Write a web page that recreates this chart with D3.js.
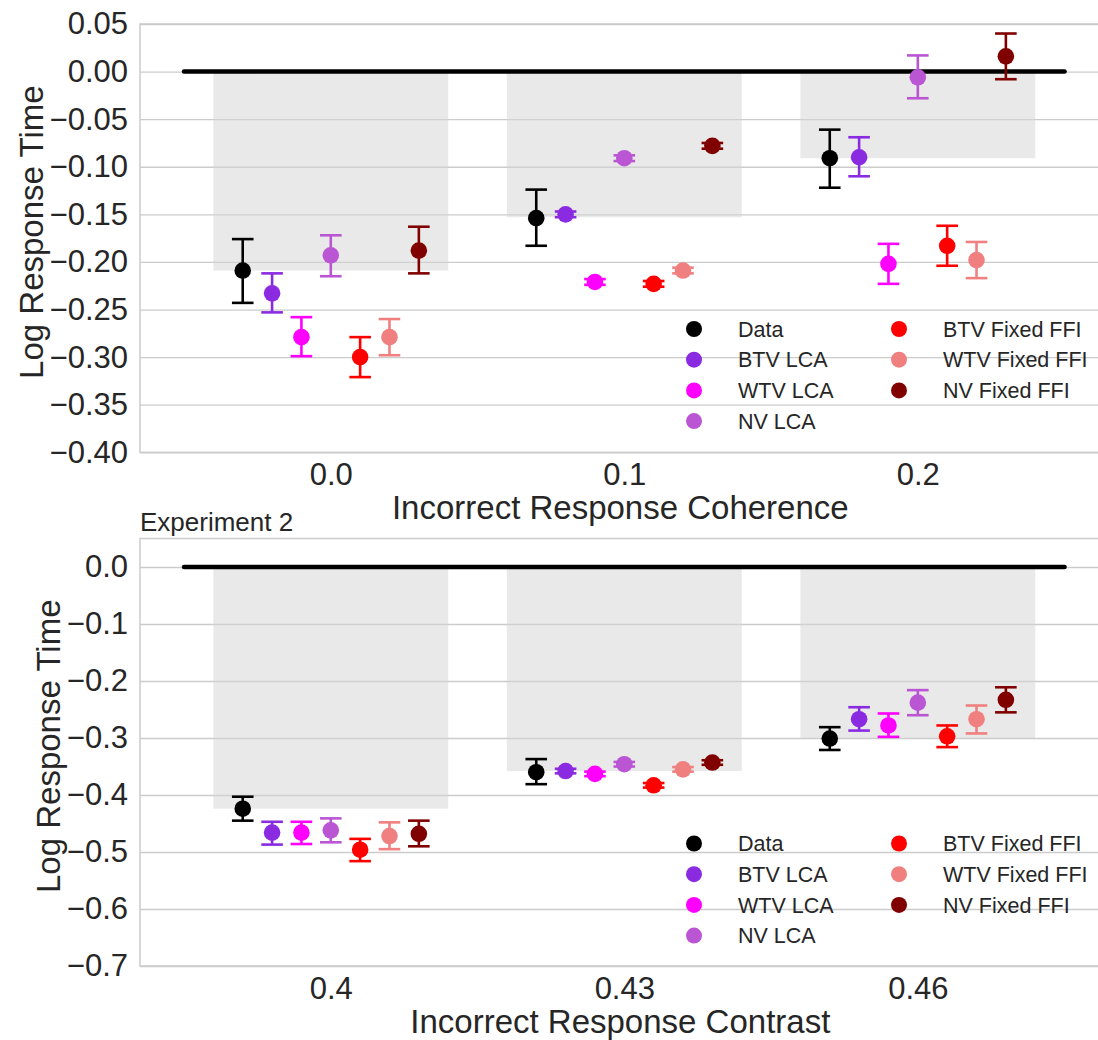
<!DOCTYPE html>
<html>
    <head>
        <meta charset="utf-8">
        <title>Log Response Time</title>
        <style>
            html, body {
                margin: 0px;
                padding: 0px;
                background-color: #ffffff;
            }

            svg {
                display: block;
                font-family: Arial, "Liberation Sans", sans-serif;
            }

            .axis .domain {
                stroke: none;
            }

            .axis text {
                fill: #262626;
            }

            .grid line {
                stroke: #cccccc;
                stroke-width: 1.3;
            }

            .grid text, .grid .domain {
                display: none;
            }
        </style>
        <script src="https://cdn.jsdelivr.net/npm/d3@7"></script>
    </head>
    <body>
        <div id="main"></div>

        <script>
            // series shared by both panels
            var seriesNames = ["Data", "BTV LCA", "WTV LCA", "NV LCA", "BTV Fixed FFI", "WTV Fixed FFI", "NV Fixed FFI"];
            var seriesColors = ["#000000", "#8a2be2", "#ff00ff", "#ba55d3", "#ff0000", "#f08080", "#800000"];

            // experiment 1 (coherence)
            var exp1Categories = ["0.0", "0.1", "0.2"];
            var exp1Bars = [-0.209, -0.153, -0.091];
            var exp1Means = [
                [-0.209, -0.154, -0.091],
                [-0.233, -0.150, -0.090],
                [-0.279, -0.221, -0.202],
                [-0.193, -0.091, -0.006],
                [-0.300, -0.223, -0.183],
                [-0.279, -0.209, -0.198],
                [-0.188, -0.078, 0.016]
            ];
            var exp1Lower = [
                [-0.243, -0.183, -0.122],
                [-0.253, -0.153, -0.110],
                [-0.299, -0.224, -0.223],
                [-0.215, -0.094, -0.028],
                [-0.321, -0.226, -0.204],
                [-0.298, -0.212, -0.217],
                [-0.212, -0.081, -0.008]
            ];
            var exp1Upper = [
                [-0.176, -0.124, -0.061],
                [-0.212, -0.147, -0.069],
                [-0.258, -0.218, -0.181],
                [-0.172, -0.088, 0.017],
                [-0.279, -0.220, -0.162],
                [-0.260, -0.206, -0.179],
                [-0.163, -0.075, 0.040]
            ];
            var exp1Ticks = [0.05, 0.00, -0.05, -0.10, -0.15, -0.20, -0.25, -0.30, -0.35, -0.40];

            // experiment 2 (contrast)
            var exp2Categories = ["0.4", "0.43", "0.46"];
            var exp2Bars = [-0.424, -0.358, -0.300];
            var exp2Means = [
                [-0.424, -0.360, -0.301],
                [-0.466, -0.358, -0.267],
                [-0.466, -0.363, -0.278],
                [-0.462, -0.346, -0.238],
                [-0.496, -0.383, -0.297],
                [-0.472, -0.355, -0.267],
                [-0.468, -0.343, -0.233]
            ];
            var exp2Lower = [
                [-0.445, -0.381, -0.321],
                [-0.487, -0.362, -0.287],
                [-0.486, -0.367, -0.298],
                [-0.483, -0.350, -0.260],
                [-0.516, -0.387, -0.316],
                [-0.495, -0.359, -0.292],
                [-0.490, -0.347, -0.255]
            ];
            var exp2Upper = [
                [-0.403, -0.337, -0.281],
                [-0.447, -0.354, -0.246],
                [-0.447, -0.359, -0.257],
                [-0.441, -0.342, -0.216],
                [-0.477, -0.379, -0.278],
                [-0.448, -0.351, -0.243],
                [-0.445, -0.339, -0.211]
            ];
            var exp2Ticks = [0.0, -0.1, -0.2, -0.3, -0.4, -0.5, -0.6, -0.7];

            var width = 1098;
            var height = 1040;
            var left = 140;
            var right = 1108.6;
            var tickFont = 31;
            var labelFont = 33;
            var legendFont = 21.5;
            var dodge = 0.1;
            var capHalf = 10.8;
            var markerRadius = 8.3;

            function fmt(decimals) {
                return function(d) {
                    var s = Math.abs(d).toFixed(decimals);
                    return (d < -1e-9 ? "\u2212" : "") + s;
                };
            }

            function drawPanel(svg, cfg) {
                var x = d3.scaleLinear().domain([-0.65, 2.65]).range([left, right]);
                var y = d3.scaleLinear().domain(cfg.domain).range([cfg.bottom, cfg.top]);
                var g = svg.append("g");

                // grid
                g.append("g")
                    .attr("class", "grid")
                    .attr("transform", "translate(" + left + ",0)")
                    .call(d3.axisLeft(y).tickValues(cfg.ticks).tickSize(-(right - left)));

                // frame
                g.append("rect")
                    .attr("x", left)
                    .attr("y", cfg.top)
                    .attr("width", right - left)
                    .attr("height", cfg.bottom - cfg.top)
                    .attr("fill", "none")
                    .attr("stroke", "#cccccc")
                    .attr("stroke-width", 1.5);

                // data bars
                g.selectAll(".bar")
                    .data(cfg.bars)
                    .enter().append("rect")
                    .attr("class", "bar")
                    .attr("x", function(d, i) { return x(i - 0.4); })
                    .attr("width", x(0.4) - x(-0.4))
                    .attr("y", y(0))
                    .attr("height", function(d) { return y(d) - y(0); })
                    .attr("fill", "#d3d3d3")
                    .attr("fill-opacity", 0.5);

                // zero line
                g.append("line")
                    .attr("x1", x(-0.5))
                    .attr("x2", x(2.5))
                    .attr("y1", y(0))
                    .attr("y2", y(0))
                    .attr("stroke", "#000000")
                    .attr("stroke-width", 4.5)
                    .attr("stroke-linecap", "round");

                // points with error bars
                seriesNames.forEach(function(name, s) {
                    var off = (s - 3) * dodge;
                    var sg = g.append("g").attr("stroke", seriesColors[s]).attr("fill", seriesColors[s]);
                    cfg.means[s].forEach(function(m, c) {
                        var cx = x(c + off);
                        var lo = y(cfg.lower[s][c]);
                        var hi = y(cfg.upper[s][c]);
                        sg.append("line")
                            .attr("x1", cx).attr("x2", cx)
                            .attr("y1", lo).attr("y2", hi)
                            .attr("stroke-width", 2.6);
                        [lo, hi].forEach(function(cy) {
                            sg.append("line")
                                .attr("x1", cx - capHalf).attr("x2", cx + capHalf)
                                .attr("y1", cy).attr("y2", cy)
                                .attr("stroke-width", 2.6);
                        });
                        sg.append("circle")
                            .attr("cx", cx)
                            .attr("cy", y(m))
                            .attr("r", markerRadius)
                            .attr("stroke", "none");
                    });
                });

                // y axis
                var yAxis = g.append("g")
                    .attr("class", "axis")
                    .attr("transform", "translate(" + left + ",0)")
                    .call(d3.axisLeft(y).tickValues(cfg.ticks).tickSize(0).tickPadding(12).tickFormat(fmt(cfg.decimals)))
                    .attr("font-size", tickFont)
                    .attr("font-family", null);

                var minLeft = d3.min(yAxis.selectAll("text").nodes(), function(n) {
                    var b = n.getBBox();
                    return left + b.x;
                });

                // x axis
                g.append("g")
                    .attr("class", "axis")
                    .attr("transform", "translate(0," + cfg.bottom + ")")
                    .call(d3.axisBottom(x).tickValues([0, 1, 2]).tickSize(0).tickPadding(11)
                        .tickFormat(function(d) { return cfg.categories[d]; }))
                    .attr("font-size", tickFont)
                    .attr("font-family", null);

                g.append("text")
                    .attr("x", (left + right) / 2 - 4)
                    .attr("y", cfg.bottom + 67)
                    .attr("text-anchor", "middle")
                    .attr("font-size", labelFont)
                    .attr("fill", "#262626")
                    .text(cfg.xLabel);

                g.append("text")
                    .attr("transform", "translate(" + (minLeft - 7) + "," + ((cfg.top + cfg.bottom) / 2 - 6) + ") rotate(-90)")
                    .attr("text-anchor", "middle")
                    .attr("font-size", labelFont)
                    .attr("fill", "#262626")
                    .text("Log Response Time");

                if (cfg.title) {
                    g.append("text")
                        .attr("x", left)
                        .attr("y", cfg.top - 8)
                        .attr("font-size", 26)
                        .attr("fill", "#262626")
                        .text(cfg.title);
                }

                // legend
                var legend = g.append("g");
                seriesNames.forEach(function(name, s) {
                    var col = s < 4 ? 0 : 1;
                    var row = s < 4 ? s : s - 4;
                    var lx = col === 0 ? 694 : 899;
                    var ly = cfg.top + 305 + row * 30.7;
                    legend.append("circle")
                        .attr("cx", lx)
                        .attr("cy", ly)
                        .attr("r", 8)
                        .attr("fill", seriesColors[s]);
                    legend.append("text")
                        .attr("x", lx + 44)
                        .attr("y", ly)
                        .attr("dy", "0.36em")
                        .attr("font-size", legendFont)
                        .attr("fill", "#262626")
                        .text(name);
                });
            }

            function main() {
                var svg = d3.select("#main")
                    .append("svg")
                    .attr("width", width)
                    .attr("height", height);

                drawPanel(svg, {
                    top: 24, bottom: 452.3, domain: [-0.40, 0.05], ticks: exp1Ticks, decimals: 2,
                    categories: exp1Categories, bars: exp1Bars,
                    means: exp1Means, lower: exp1Lower, upper: exp1Upper,
                    xLabel: "Incorrect Response Coherence"
                });

                drawPanel(svg, {
                    top: 538.5, bottom: 966, domain: [-0.70, 0.05], ticks: exp2Ticks, decimals: 1,
                    categories: exp2Categories, bars: exp2Bars,
                    means: exp2Means, lower: exp2Lower, upper: exp2Upper,
                    xLabel: "Incorrect Response Contrast", title: "Experiment 2"
                });
            }

            main();
        </script>
    </body>
</html>
